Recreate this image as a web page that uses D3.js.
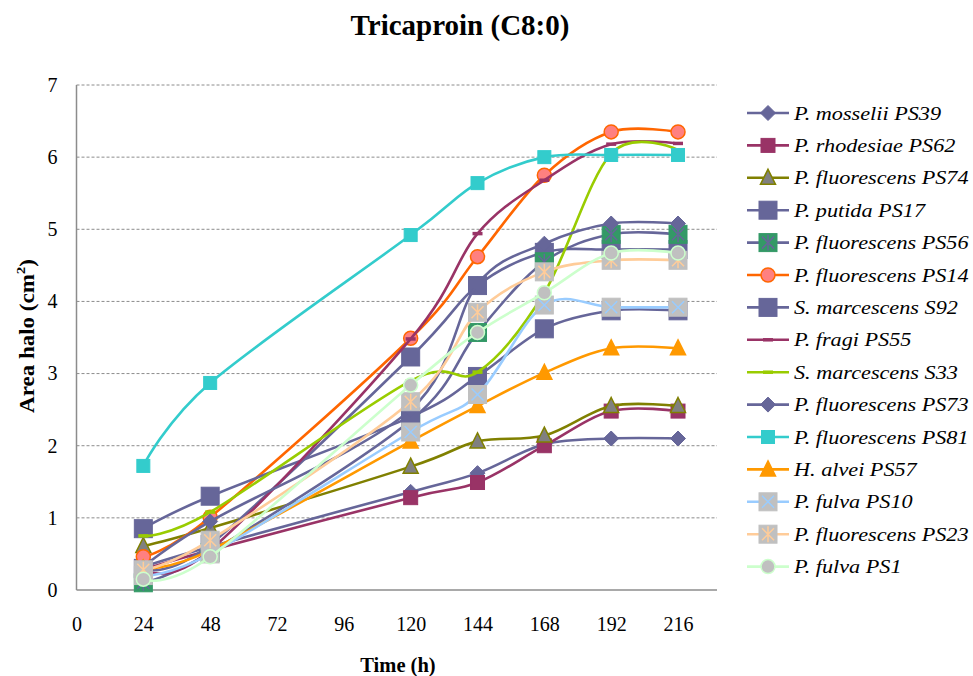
<!DOCTYPE html>
<html>
<head>
<meta charset="utf-8">
<script src="https://cdn.jsdelivr.net/npm/d3@7"></script>
<style>
  body { margin: 0; background: #fff; }
  text { font-family: "Liberation Serif", "Times New Roman", serif; fill: #000; }
</style>
</head>
<body>
<div id="chart"></div>
<script>
var svgWidth = 973;
var svgHeight = 676;

// sampling times (h)
var times = [24, 48, 120, 144, 168, 192, 216];
var xTicks = [0, 24, 48, 72, 96, 120, 144, 168, 192, 216];
var yTicks = [0, 1, 2, 3, 4, 5, 6, 7];

var seriesNames = ["P. mosselii PS39", "P. rhodesiae PS62", "P. fluorescens PS74",
  "P. putida PS17", "P. fluorescens PS56", "P. fluorescens PS14", "S. marcescens S92",
  "P. fragi PS55", "S. marcescens S33", "P. fluorescens PS73", "P. fluorescens PS81",
  "H. alvei PS57", "P. fulva PS10", "P. fluorescens PS23", "P. fulva PS1"];

var ps39 = [0.32, 0.60, 1.36, 1.62, 2.02, 2.10, 2.10];
var ps62 = [0.28, 0.55, 1.28, 1.49, 2.00, 2.48, 2.48];
var ps74 = [0.61, 0.86, 1.71, 2.06, 2.14, 2.55, 2.55];
var ps17 = [0.30, 0.63, 3.23, 4.22, 4.68, 4.72, 4.72];
var ps56 = [0.10, 0.52, 2.35, 3.57, 4.55, 4.93, 4.93];
var ps14 = [0.46, 1.01, 3.49, 4.62, 5.75, 6.35, 6.35];
var s92 = [0.85, 1.30, 2.40, 2.96, 3.62, 3.87, 3.87];
var ps55 = [0.30, 0.55, 3.48, 4.94, 5.68, 6.18, 6.19];
var s33 = [0.75, 1.08, 2.90, 3.02, 4.12, 6.05, 6.10];
var ps73 = [0.32, 0.95, 2.50, 4.24, 4.80, 5.08, 5.08];
var ps81 = [1.72, 2.87, 4.92, 5.64, 6.00, 6.03, 6.03];
var ps57 = [0.30, 0.55, 2.06, 2.55, 3.01, 3.35, 3.35];
var ps10 = [0.20, 0.50, 2.19, 2.71, 3.95, 3.92, 3.92];
var ps23 = [0.28, 0.69, 2.61, 3.85, 4.41, 4.57, 4.57];
var ps1 = [0.15, 0.46, 2.84, 3.57, 4.12, 4.67, 4.67];

var seriesValues = [ps39, ps62, ps74, ps17, ps56, ps14, s92, ps55, s33, ps73, ps81, ps57, ps10, ps23, ps1];

// line colour, marker shape, marker fill, marker stroke, marker size
var styles = [
  { line: "#666699", shape: "diamond", fill: "#666699", stroke: "#666699", size: 15 },
  { line: "#993366", shape: "square", fill: "#993366", stroke: "#993366", size: 14 },
  { line: "#808000", shape: "triangle", fill: "#808080", stroke: "#808000", size: 15 },
  { line: "#666699", shape: "square", fill: "#666699", stroke: "#666699", size: 18 },
  { line: "#666699", shape: "square", fill: "#339966", stroke: "#339966", size: 18, cross: "#666699", star: true },
  { line: "#FF6600", shape: "circle", fill: "#FF8080", stroke: "#FF6600", size: 14 },
  { line: "#666699", shape: "square", fill: "#666699", stroke: "#666699", size: 18 },
  { line: "#993366", shape: "dash", fill: "#993366", stroke: "#993366", size: 10 },
  { line: "#99CC00", shape: "dash", fill: "#99CC00", stroke: "#99CC00", size: 10 },
  { line: "#666699", shape: "diamond", fill: "#666699", stroke: "#666699", size: 15 },
  { line: "#33CCCC", shape: "square", fill: "#33CCCC", stroke: "#33CCCC", size: 13 },
  { line: "#FF9900", shape: "triangle", fill: "#FF9900", stroke: "#FF9900", size: 15 },
  { line: "#99CCFF", shape: "square", fill: "#C0C0C0", stroke: "#C0C0C0", size: 18, cross: "#99CCFF" },
  { line: "#FFCC99", shape: "square", fill: "#C0C0C0", stroke: "#C0C0C0", size: 18, cross: "#FFCC99", star: true },
  { line: "#CCFFCC", shape: "circle", fill: "#C0C0C0", stroke: "#CCFFCC", size: 14 }
];

var plot = { left: 76.5, right: 717, top: 85, bottom: 590 };

var svg = d3.select("#chart")
  .append("svg")
  .attr("width", svgWidth)
  .attr("height", svgHeight);

var xScale = d3.scaleLinear().domain([0, 230]).range([plot.left, plot.right]);
var yScale = d3.scaleLinear().domain([0, 7]).range([plot.bottom, plot.top]);

// gridlines
svg.append("g")
  .selectAll("line")
  .data(yTicks.filter(d => d > 0))
  .enter()
  .append("line")
  .attr("x1", plot.left)
  .attr("x2", plot.right)
  .attr("y1", d => yScale(d))
  .attr("y2", d => yScale(d))
  .attr("stroke", "#8c8c8c")
  .attr("stroke-width", 1)
  .attr("stroke-dasharray", "3,2");

// axes without tick marks
var yAxis = svg.append("g")
  .attr("transform", `translate(${plot.left},0)`)
  .call(d3.axisLeft(yScale).tickValues(yTicks).tickSize(0).tickPadding(19).tickFormat(d3.format("d")));
var xAxis = svg.append("g")
  .attr("transform", `translate(0,${plot.bottom})`)
  .call(d3.axisBottom(xScale).tickValues(xTicks).tickSize(0).tickPadding(27).tickFormat(d3.format("d")));

[xAxis, yAxis].forEach(a => {
  a.select(".domain").attr("stroke", "#8c8c8c").attr("stroke-width", 1.5);
  a.selectAll("text")
    .style("font-family", "'Liberation Serif', 'Times New Roman', serif")
    .style("font-size", "20px")
    .attr("fill", "#000");
});
xAxis.select(".domain").attr("d", `M${plot.left},0H${plot.right}`);
yAxis.select(".domain").attr("d", `M0,${plot.bottom}V${plot.top}`);

var line = d3.line()
  .x(d => xScale(d.t))
  .y(d => yScale(d.v))
  .curve(d3.curveCardinal.tension(0));

function drawMarker(g, st, cx, cy) {
  var s = st.size, h = s / 2;
  if (st.shape === "square") {
    g.append("rect").attr("x", cx - h).attr("y", cy - h).attr("width", s).attr("height", s)
      .attr("fill", st.fill).attr("stroke", st.stroke).attr("stroke-width", 1);
  } else if (st.shape === "diamond") {
    g.append("path").attr("d", `M${cx},${cy - h}L${cx + h},${cy}L${cx},${cy + h}L${cx - h},${cy}Z`)
      .attr("fill", st.fill).attr("stroke", st.stroke);
  } else if (st.shape === "triangle") {
    g.append("path").attr("d", `M${cx},${cy - h - 1}L${cx + h},${cy + h - 1}L${cx - h},${cy + h - 1}Z`)
      .attr("fill", st.fill).attr("stroke", st.stroke).attr("stroke-width", 1.5);
  } else if (st.shape === "circle") {
    g.append("circle").attr("cx", cx).attr("cy", cy).attr("r", h)
      .attr("fill", st.fill).attr("stroke", st.stroke).attr("stroke-width", 1.5);
  } else if (st.shape === "dash") {
    g.append("line").attr("x1", cx - h).attr("x2", cx + h).attr("y1", cy).attr("y2", cy)
      .attr("stroke", st.stroke).attr("stroke-width", 3.5);
  }
  if (st.cross) {
    var c = h - 3;
    g.append("path")
      .attr("d", `M${cx - c},${cy - c}L${cx + c},${cy + c}M${cx - c},${cy + c}L${cx + c},${cy - c}` +
        (st.star ? `M${cx},${cy - h + 1}V${cy + h - 1}` : ""))
      .attr("stroke", st.cross).attr("stroke-width", 1.5).attr("fill", "none");
  }
}

// series, drawn in legend order
seriesValues.forEach((vals, i) => {
  var st = styles[i];
  var pts = vals.map((v, j) => ({ t: times[j], v: v }));
  var g = svg.append("g");
  g.append("path")
    .datum(pts)
    .attr("d", line)
    .attr("fill", "none")
    .attr("stroke", st.line)
    .attr("stroke-width", 2.6);
  pts.forEach(p => drawMarker(g, st, xScale(p.t), yScale(p.v)));
});

// legend
var legend = svg.append("g");
seriesNames.forEach((name, i) => {
  var y = 113 + i * 32.4;
  var st = styles[i];
  var g = legend.append("g");
  g.append("line")
    .attr("x1", 747).attr("x2", 789)
    .attr("y1", y).attr("y2", y)
    .attr("stroke", st.line).attr("stroke-width", 2.6);
  drawMarker(g, st, 768, y);
  g.append("text")
    .attr("transform", `translate(794,${y + 6.5}) scale(1.17,1)`)
    .style("font-size", "19px")
    .style("font-style", "italic")
    .text(name);
});

// titles
svg.append("text")
  .attr("x", 460)
  .attr("y", 35)
  .attr("text-anchor", "middle")
  .style("font-size", "29px")
  .style("font-weight", "bold")
  .text("Tricaproin (C8:0)");

svg.append("text")
  .attr("x", 398)
  .attr("y", 672)
  .attr("text-anchor", "middle")
  .style("font-size", "20.5px")
  .style("font-weight", "bold")
  .text("Time (h)");

var yTitle = svg.append("text")
  .attr("transform", "translate(34,336) rotate(-90) scale(1.15,1)")
  .attr("text-anchor", "middle")
  .style("font-size", "20px")
  .style("font-weight", "bold");
yTitle.append("tspan").text("Area halo (cm");
yTitle.append("tspan").attr("dy", -9).style("font-size", "13px").text("2");
yTitle.append("tspan").attr("dy", 9).text(")");
</script>
</body>
</html>
